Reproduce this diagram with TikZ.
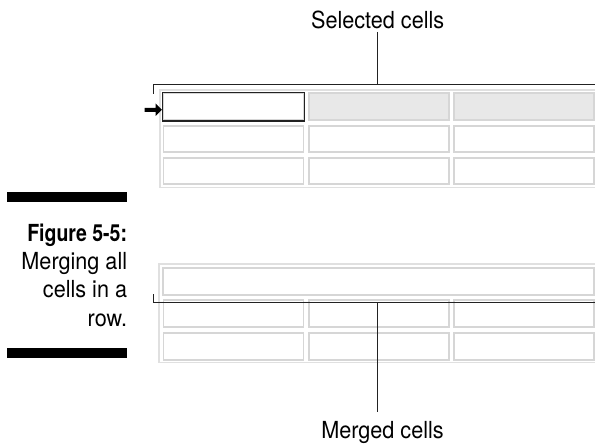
\documentclass[tikz,border=0pt]{standalone}
\usepackage{fontspec}
\setmainfont{TeX Gyre Heros}[FakeStretch=0.92]
\newfontfamily\capbf{TeX Gyre Heros}[FakeStretch=0.83]
\definecolor{cellline}{HTML}{D6D6D6}
\definecolor{outerline}{HTML}{E0E0E0}
\definecolor{selfill}{HTML}{E8E8E8}
\definecolor{brk}{HTML}{222222}
\tikzset{
  cellbox/.style={draw=cellline, line width=1.8pt, fill=white, inner sep=0pt,
    minimum width=140pt, minimum height=26.5pt, anchor=north west},
  tablebox/.style={draw=outerline, line width=1.6pt},
  bracket/.style={draw=brk, line width=1.3pt},
  lbl/.style={font=\fontsize{23.5}{28}\selectfont, inner sep=0pt, anchor=base},
  captxt/.style={font=\fontsize{23.5}{28}\selectfont, inner sep=0pt, anchor=base east},
  bar/.style={fill=black, draw=none}
}
\begin{document}
\begin{tikzpicture}[x=1pt,y=-1pt]
\useasboundingbox (0,0) rectangle (595,444);
% caption
\fill[bar] (7.3,192.3) rectangle (127.3,202.3);
\fill[bar] (7.3,348.3) rectangle (127.3,358.3);
\node[captxt, font=\fontsize{23.5}{28}\capbf\bfseries] (c1) at (127.3,241) {Figure 5-5:};
\node[captxt] (c2) at (127.3,269.3) {Merging all};
\node[captxt] (c3) at (127.3,297.3) {cells in a};
\node[captxt] (c4) at (127.3,326) {row.};
% top table
\draw[tablebox] (159.8,89.8) rectangle (600,187.3);
\foreach \r/\yy in {1/92.5,2/124.8,3/156.8}{
  \foreach \c/\xx in {1/162.5,2/307.7,3/453}{
    \node[cellbox] (t\r\c) at (\xx,\yy) {};
  }
}
\node[cellbox, fill=selfill] (t12) at (307.7,92.5) {};
\node[cellbox, fill=selfill] (t13) at (453,92.5) {};
\draw[draw=brk, line width=1.6pt] (t11.north west) rectangle (t11.south east);
% arrow
\fill[black] (144.5,107.8) -- (155.5,107.8) -- (155.5,103.5) -- (161.8,109.8) -- (155.5,116) -- (155.5,111.8) -- (144.5,111.8) -- cycle;
% lower table
\draw[tablebox] (159,264) rectangle (600,362.5);
\node[cellbox, minimum width=431pt, minimum height=27pt] (mc) at (162,267) {};
\foreach \r/\yy in {2/299.1,3/331.8}{
  \foreach \c/\xx in {1/162.5,2/307.7,3/453}{
    \node[cellbox, minimum height=27pt] (b\r\c) at (\xx,\yy) {};
  }
}
% labels and brackets
\node[lbl] (sel) at (377.7,28.3) {Selected cells};
\node[lbl] (mrg) at (382.5,438.3) {Merged cells};
\coordinate (tj) at (377.7,84.3);
\coordinate (tl) at (153.3,84.3);
\coordinate (tr) at (600,84.3);
\coordinate (bj) at (377.7,302.7);
\coordinate (bl) at (153.3,302.7);
\coordinate (br) at (600,302.7);
\draw[bracket] (tl |- 0,94) -- (tl) -- (tr);
\draw[bracket] (sel.south -| tj) ++(0,3) -- (tj);
\draw[bracket] (bl |- 0,294) -- (bl) -- (br);
\draw[bracket] (bj) -- ([yshift=9pt]mrg.north -| bj);
\end{tikzpicture}
\end{document}
